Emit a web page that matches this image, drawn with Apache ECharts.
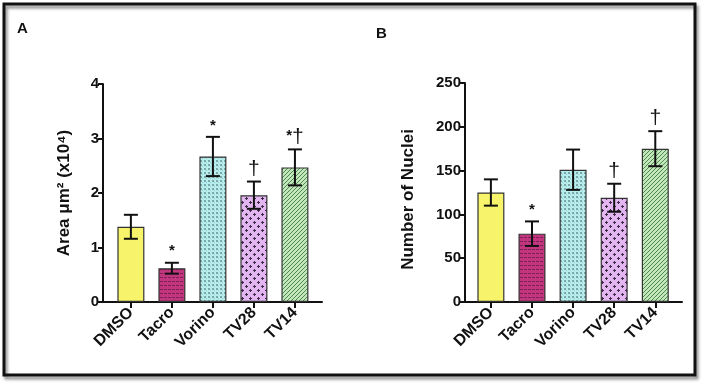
<!DOCTYPE html>
<html>
<head>
<meta charset="utf-8">
<script src="https://cdn.jsdelivr.net/npm/echarts@6/dist/echarts.min.js"></script>
<style>
  html, body { margin: 0; padding: 0; background: #fff; }
  #chart { width: 705px; height: 385px; }
</style>
</head>
<body>
<div id="chart"></div>
<script>
// data
const categories = ['DMSO', 'Tacro', 'Vorino', 'TV28', 'TV14']
const areaMean = [1.38, 0.62, 2.67, 1.96, 2.47]
const areaErr = [0.22, 0.1, 0.36, 0.25, 0.33]
const areaMarks = ['', '*', '*', '†', '*†']
const nucleiMean = [125, 78, 151, 119, 175]
const nucleiErr = [15, 14, 23, 16, 20]
const nucleiMarks = ['', '*', '', '†', '†']
const areaTicks = { min: 0, max: 4, interval: 1 }
const nucleiTicks = { min: 0, max: 250, interval: 50 }

const FONT = '"Liberation Sans", Arial, sans-serif'

// small tiles for the hatched fills
function tile (w, h, base, draw) {
  let c = document.createElement('canvas')
  c.width = w
  c.height = h
  let g = c.getContext('2d')
  g.fillStyle = base
  g.fillRect(0, 0, w, h)
  draw(g)
  return { image: c, repeat: 'repeat' }
}
const fills = [
  '#f7f46c',
  tile(4, 4, '#c2357f', g => { g.fillStyle = '#7e1f56'; g.fillRect(0, 1, 3, 1) }),
  tile(4, 4, '#b6eded', g => { g.fillStyle = '#7aa8a8'; g.fillRect(0, 0, 2, 2); g.fillStyle = '#9cc9c9'; g.fillRect(2, 2, 1, 1) }),
  tile(8, 8, '#e3b6f1', g => {
    g.fillStyle = '#3a2a42'
    g.fillRect(2, 1, 1, 3); g.fillRect(1, 2, 3, 1)
    g.fillRect(6, 5, 1, 3); g.fillRect(5, 6, 3, 1)
  }),
  tile(4, 4, '#c4e6bd', g => {
    g.fillStyle = '#4d8a4d'
    for (let i = 0; i < 4; i++) g.fillRect(i, 3 - i, 1, 1)
  })
]

function barData (means) {
  return means.map((v, i) => ({
    value: [i, v],
    itemStyle: { color: fills[i], borderColor: '#333', borderWidth: 1.2 }
  }))
}

function errSeries (idx, means, errs, marks) {
  return {
    type: 'custom',
    xAxisIndex: idx,
    yAxisIndex: idx,
    z: 5,
    data: means.map((v, i) => [i, v, errs[i]]),
    renderItem (params, api) {
      let x = api.value(0)
      let m = api.value(1)
      let e = api.value(2)
      let top = api.coord([x, m + e])
      let bot = api.coord([x, m - e])
      let style = { stroke: '#111', lineWidth: 2 }
      let children = [
        { type: 'line', shape: { x1: top[0], y1: top[1], x2: bot[0], y2: bot[1] }, style },
        { type: 'line', shape: { x1: top[0] - 7, y1: top[1], x2: top[0] + 7, y2: top[1] }, style },
        { type: 'line', shape: { x1: bot[0] - 7, y1: bot[1], x2: bot[0] + 7, y2: bot[1] }, style }
      ]
      let mk = marks[params.dataIndex]
      if (mk) {
        children.push({
          type: 'text',
          style: {
            text: mk.replace('*', '{s|*}').replace('†', '{d|†}'),
            x: top[0],
            y: top[1] - 2,
            align: 'center',
            verticalAlign: 'bottom',
            rich: {
              s: { fontSize: 15, fontWeight: 'bold', fontFamily: FONT, fill: '#111', color: '#111', padding: [0, 0, 2, 0] },
              d: { fontSize: 21, fontFamily: FONT, fill: '#111', color: '#111' }
            }
          }
        })
      }
      return { type: 'group', children }
    }
  }
}

function xAxisOf (idx, min, max) {
  return {
    type: 'value',
    gridIndex: idx,
    min,
    max,
    splitLine: { show: false },
    axisLine: { show: true, onZero: false, lineStyle: { color: '#111', width: 2 } },
    axisTick: { show: true, length: 6, customValues: [0, 1, 2, 3, 4], lineStyle: { color: '#111', width: 2 } },
    axisLabel: {
      customValues: [0, 1, 2, 3, 4],
      formatter: v => categories[v],
      rotate: 45,
      margin: 8,
      color: '#111',
      fontSize: 16,
      fontWeight: 'bold',
      fontFamily: FONT
    }
  }
}

function yAxisOf (idx, ticks, name, gap, pad) {
  return {
    type: 'value',
    gridIndex: idx,
    min: ticks.min,
    max: ticks.max,
    interval: ticks.interval,
    name,
    nameLocation: 'middle',
    nameGap: gap,
    nameTextStyle: { color: '#111', fontSize: 17, fontWeight: 'bold', fontFamily: FONT, padding: pad },
    splitLine: { show: false },
    axisLine: { show: true, onZero: false, lineStyle: { color: '#111', width: 2 } },
    axisTick: { show: true, length: 5, lineStyle: { color: '#111', width: 2 } },
    axisLabel: { color: '#111', fontSize: 15, fontWeight: 'bold', fontFamily: FONT, margin: 4 }
  }
}

let myChart = echarts.init(document.getElementById('chart'))
myChart.setOption({
  animation: false,
  backgroundColor: '#fff',
  graphic: [
    {
      type: 'rect',
      shape: { x: 4, y: 4, width: 691, height: 371 },
      style: {
        fill: 'transparent',
        stroke: '#111',
        lineWidth: 3,
        shadowBlur: 3,
        shadowOffsetX: 2,
        shadowOffsetY: 3,
        shadowColor: 'rgba(0,0,0,0.45)'
      }
    },
    { type: 'text', left: 17, top: 21, style: { text: 'A', font: 'bold 15px ' + FONT, fill: '#111' } },
    { type: 'text', left: 376, top: 26, style: { text: 'B', font: 'bold 15px ' + FONT, fill: '#111' } }
  ],
  grid: [
    { left: 103, top: 84, width: 219, height: 218 },
    { left: 465, top: 83, width: 217, height: 219 }
  ],
  xAxis: [
    xAxisOf(0, -0.68, 4.66),
    xAxisOf(1, -0.63, 4.65)
  ],
  yAxis: [
    yAxisOf(0, areaTicks, 'Area μm² (x10⁴)', 30, [0, 0, 0, 0]),
    yAxisOf(1, nucleiTicks, 'Number of Nuclei', 48, [0, 14, 0, 0])
  ],
  series: [
    { type: 'bar', xAxisIndex: 0, yAxisIndex: 0, barWidth: 27, data: barData(areaMean) },
    { type: 'bar', xAxisIndex: 1, yAxisIndex: 1, barWidth: 27, data: barData(nucleiMean) },
    errSeries(0, areaMean, areaErr, areaMarks),
    errSeries(1, nucleiMean, nucleiErr, nucleiMarks)
  ]
})
</script>
</body>
</html>
